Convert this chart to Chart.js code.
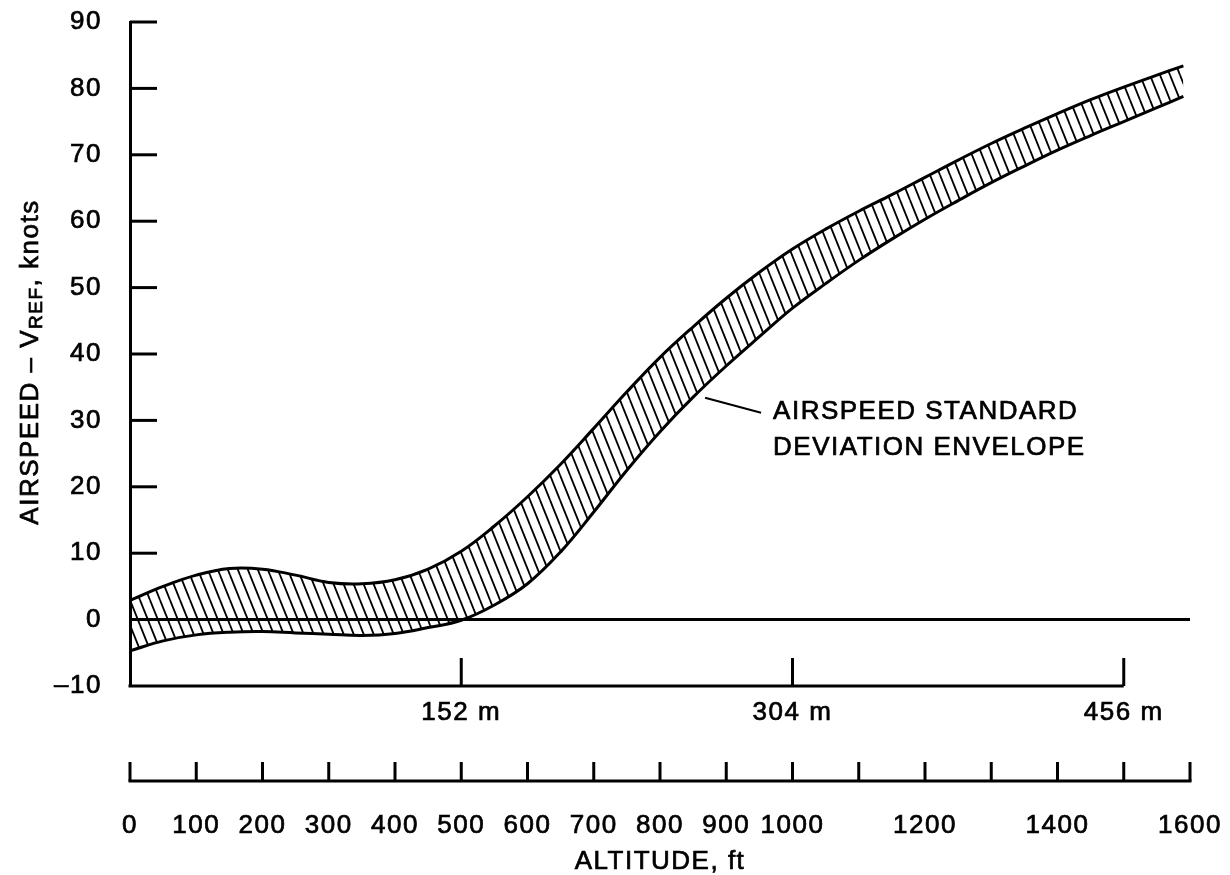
<!DOCTYPE html>
<html lang="en">
<head>
<meta charset="UTF-8">
<script src="https://cdn.jsdelivr.net/npm/chart.js@4.4.1/dist/chart.umd.min.js"></script>
<style>
    body { margin: 0; background: #fff; }
    #wrap { width: 1230px; height: 875px; position: relative; }
</style>
</head>
<body>
<div id="wrap"><canvas id="chart"></canvas></div>
<script>
// altitude (ft) and the two edges of the standard deviation envelope (knots)
const altitudeFt = [0, 50, 100, 150, 200, 250, 300, 350, 400, 450, 500, 550, 600, 650, 700, 750, 800,
    850, 900, 950, 1000, 1050, 1100, 1150, 1200, 1250, 1300, 1350, 1400, 1450, 1500, 1550, 1590];
const upperKnots = [2.9, 5.0, 6.7, 7.7, 7.6, 6.7, 5.6, 5.4, 6.0, 7.6, 10.3, 14.1, 18.5, 23.4, 28.8, 34.3, 39.5,
    44.1, 48.4, 52.3, 55.8, 58.8, 61.5, 64.0, 66.6, 69.2, 71.7, 74.0, 76.2, 78.3, 80.2, 82.0, 83.4];
const lowerKnots = [-4.7, -3.2, -2.3, -1.9, -1.8, -2.0, -2.2, -2.4, -2.1, -1.2, -0.1, 2.2, 5.4, 10.2, 16.2, 22.5, 28.3,
    33.5, 38.2, 42.6, 46.9, 50.6, 54.1, 57.3, 60.3, 63.1, 65.8, 68.3, 70.7, 72.9, 75.0, 77.1, 78.8];
const zeroLine = [0, 0];
const zeroLineFt = [0, 1600];

// axis ticks
const yTickValues = [10, 20, 30, 40, 50, 60, 70, 80, 90];
const ftTickValues = [0, 100, 200, 300, 400, 500, 600, 700, 800, 900, 1000, 1100, 1200, 1300, 1400, 1500, 1600];
const ftLabelValues = [0, 100, 200, 300, 400, 500, 600, 700, 800, 900, 1000, 1200, 1400, 1600];
const meterTickFt = [500, 1000, 1500];
const meterLabels = ['152 m', '304 m', '456 m'];
const noteLines = ['AIRSPEED STANDARD', 'DEVIATION ENVELOPE'];

const FONT = "'Liberation Sans', Arial, sans-serif";
const FS = 26;
const SPACING = '1.5px';

// hatch pattern for the envelope
function hatch() {
    const s = 10, h = 25;
    const c = document.createElement('canvas');
    c.width = s; c.height = h;
    const g = c.getContext('2d');
    g.strokeStyle = '#000';
    g.lineWidth = 1.8;
    for (let k = -1; k <= 1; k++) {
        g.beginPath();
        g.moveTo(k * s, 0);
        g.lineTo(k * s + s, h);
        g.stroke();
    }
    return g.createPattern(c, 'repeat');
}

function txt(ctx, s, x, y) {
    ctx.fillText(s, x, y);
    ctx.strokeText(s, x, y);
}

const decor = {
    id: 'decor',
    beforeDraw(chart) {
        chart.ctx.letterSpacing = SPACING;
    },
    afterDraw(chart) {
        const ctx = chart.ctx;
        const x = chart.scales.x, y = chart.scales.y;
        const a = chart.chartArea;
        ctx.save();
        ctx.strokeStyle = '#000';
        ctx.fillStyle = '#000';
        ctx.lineWidth = 3;

        // inward y ticks
        yTickValues.forEach(v => {
            const py = y.getPixelForValue(v);
            ctx.beginPath();
            ctx.moveTo(a.left, py);
            ctx.lineTo(a.left + 27, py);
            ctx.stroke();
        });

        // metre axis along the bottom of the plot
        const by = y.getPixelForValue(-10);
        ctx.beginPath();
        ctx.moveTo(a.left - 1.5, by);
        ctx.lineTo(x.getPixelForValue(meterTickFt[meterTickFt.length - 1]), by);
        ctx.stroke();
        meterTickFt.forEach(v => {
            const px = x.getPixelForValue(v);
            ctx.beginPath();
            ctx.moveTo(px, by);
            ctx.lineTo(px, by - 28);
            ctx.stroke();
        });

        // feet axis
        const fy = by + 95;
        ctx.beginPath();
        ctx.moveTo(x.getPixelForValue(0) - 1.5, fy);
        ctx.lineTo(x.getPixelForValue(1600) + 1.5, fy);
        ctx.stroke();
        ftTickValues.forEach(v => {
            const px = x.getPixelForValue(v);
            ctx.beginPath();
            ctx.moveTo(px, fy);
            ctx.lineTo(px, fy - 19);
            ctx.stroke();
        });

        // envelope note with leader
        const lx = x.getPixelForValue(865), ly = y.getPixelForValue(33.4);
        ctx.lineWidth = 2;
        ctx.beginPath();
        ctx.moveTo(lx + 2, ly);
        ctx.lineTo(lx + 58, ly + 15);
        ctx.stroke();

        // texts
        ctx.lineWidth = 0.7;
        ctx.letterSpacing = SPACING;
        ctx.font = FS + 'px ' + FONT;
        ctx.textAlign = 'center';
        ctx.textBaseline = 'middle';
        meterTickFt.forEach((v, i) => txt(ctx, meterLabels[i], x.getPixelForValue(v), by + 27));
        txt(ctx, 'ALTITUDE, ft', (a.left + a.right) / 2, 862);
        ctx.textAlign = 'left';
        txt(ctx, noteLines[0], lx + 70, ly + 14);
        txt(ctx, noteLines[1], lx + 70, ly + 50);

        // y title with subscript
        ctx.translate(38, 362);
        ctx.rotate(-Math.PI / 2);
        ctx.textBaseline = 'alphabetic';
        const p1 = 'AIRSPEED \u2013 V', p2 = 'REF', p3 = ', knots';
        const sub = Math.round(FS * 0.72) + 'px ' + FONT;
        ctx.font = FS + 'px ' + FONT;
        const w1 = ctx.measureText(p1).width, w3 = ctx.measureText(p3).width;
        ctx.font = sub;
        const w2 = ctx.measureText(p2).width;
        let sx = -(w1 + w2 + w3) / 2;
        ctx.font = FS + 'px ' + FONT;
        txt(ctx, p1, sx, 0);
        sx += w1;
        ctx.font = sub;
        txt(ctx, p2, sx, 4);
        sx += w2;
        ctx.font = FS + 'px ' + FONT;
        txt(ctx, p3, sx, 0);
        ctx.restore();
    }
};

const ctx = document.getElementById('chart').getContext('2d');
const chart = new Chart(ctx, {
    type: 'line',
    data: {
        datasets: [{
            data: altitudeFt.map((v, i) => ({ x: v, y: upperKnots[i] })),
            borderColor: '#000',
            borderWidth: 3,
            backgroundColor: hatch(),
            fill: '+1',
            pointRadius: 0,
            tension: 0.4
        }, {
            data: altitudeFt.map((v, i) => ({ x: v, y: lowerKnots[i] })),
            borderColor: '#000',
            borderWidth: 3,
            fill: false,
            pointRadius: 0,
            tension: 0.4
        }, {
            data: zeroLineFt.map((v, i) => ({ x: v, y: zeroLine[i] })),
            borderColor: '#000',
            borderWidth: 3,
            fill: false,
            pointRadius: 0
        }]
    },
    options: {
        responsive: true,
        maintainAspectRatio: false,
        animation: false,
        layout: { padding: { left: 0, right: 40, top: 22, bottom: 0 } },
        plugins: { legend: { display: false }, tooltip: { enabled: false } },
        scales: {
            x: {
                type: 'linear',
                min: 0,
                max: 1600,
                grid: { display: false, drawTicks: false },
                border: { display: false },
                afterBuildTicks: s => { s.ticks = ftLabelValues.map(v => ({ value: v })); },
                afterFit: s => { s.height = 189; s.paddingLeft = 0; s.paddingRight = 0; },
                ticks: {
                    autoSkip: false,
                    maxRotation: 0,
                    padding: 124,
                    color: '#000',
                    textStrokeColor: '#000',
                    textStrokeWidth: 0.7,
                    font: { family: FONT, size: FS },
                    callback: v => String(v)
                }
            },
            y: {
                min: -10,
                max: 90,
                afterFit: s => { s.width = 130; s.paddingTop = 0; s.paddingBottom = 0; },
                grid: { display: false, drawTicks: false },
                border: { display: true, color: '#000', width: 3 },
                ticks: {
                    stepSize: 10,
                    padding: 28,
                    color: '#000',
                    textStrokeColor: '#000',
                    textStrokeWidth: 0.7,
                    font: { family: FONT, size: FS },
                    callback: v => v < 0 ? '\u2013' + Math.abs(v) : String(v)
                }
            }
        }
    },
    plugins: [decor]
});
</script>
</body>
</html>
